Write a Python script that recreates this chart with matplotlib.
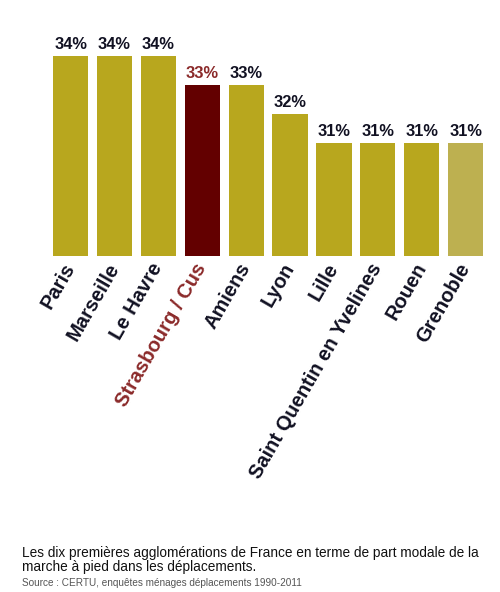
import matplotlib
matplotlib.use("Agg")
import matplotlib.pyplot as plt
from matplotlib.transforms import ScaledTranslation

categories = ["Paris", "Marseille", "Le Havre", "Strasbourg / Cus", "Amiens",
              "Lyon", "Lille", "Saint Quentin en Yvelines", "Rouen", "Grenoble"]
values = [34, 34, 34, 33, 33, 32, 31, 31, 31, 31]
value_labels = ["34%", "34%", "34%", "33%", "33%", "32%", "31%", "31%", "31%", "31%"]

bar_colors = ["#b8a71e"] * 10
bar_colors[3] = "#630000"
bar_colors[9] = "#bdb050"
label_colors = ["#111122"] * 10
label_colors[3] = "#8b2a2a"

plt.rcParams['font.family'] = ['Liberation Sans', 'DejaVu Sans']

W, H = 500, 592
fig = plt.figure(figsize=(W / 100, H / 100), dpi=100)
fig.patch.set_facecolor("white")

base = 27.1
top = 35.5
unit_px = 29.0
ax_left = 44.2
ax_w = 447.8
ax_bottom_px = 256
ax_h = (top - base) * unit_px
ax = fig.add_axes([ax_left / W, (H - ax_bottom_px) / H, ax_w / W, ax_h / H])
ax.set_xlim(-0.6, 9.6)
ax.set_ylim(base, top)

x = list(range(len(categories)))
ax.bar(x, [v - base for v in values], bottom=base, width=0.8, color=bar_colors)
for xi, v, lab, c in zip(x, values, value_labels, label_colors):
    ax.text(xi, v + 0.12, lab, ha="center", va="bottom", fontsize=11.8,
            fontweight="bold", color=c)

ax.set_xticks(x)
ax.set_xticklabels(categories, rotation=60, ha="right", va="center",
                   rotation_mode="anchor", fontsize=14.5, fontweight="bold")
offset = ScaledTranslation(-8 / 100, 0, fig.dpi_scale_trans)
for t, c in zip(ax.get_xticklabels(), label_colors):
    t.set_color(c)
    t.set_transform(t.get_transform() + offset)
ax.tick_params(axis="x", length=0, pad=6)
ax.set_yticks([])
for s in ax.spines.values():
    s.set_visible(False)

fig.text(22 / W, 1 - 557 / H,
         "Les dix premières agglomérations de France en terme de part modale de la",
         ha="left", va="baseline", fontsize=9.8, color="#111111")
fig.text(22 / W, 1 - 571 / H, "marche à pied dans les déplacements.",
         ha="left", va="baseline", fontsize=9.8, color="#111111")
fig.text(22 / W, 1 - 586 / H, "Source : CERTU, enquêtes ménages déplacements 1990-2011",
         ha="left", va="baseline", fontsize=7.2, color="#555555")

fig.savefig("out.png", dpi=100, facecolor="white")
